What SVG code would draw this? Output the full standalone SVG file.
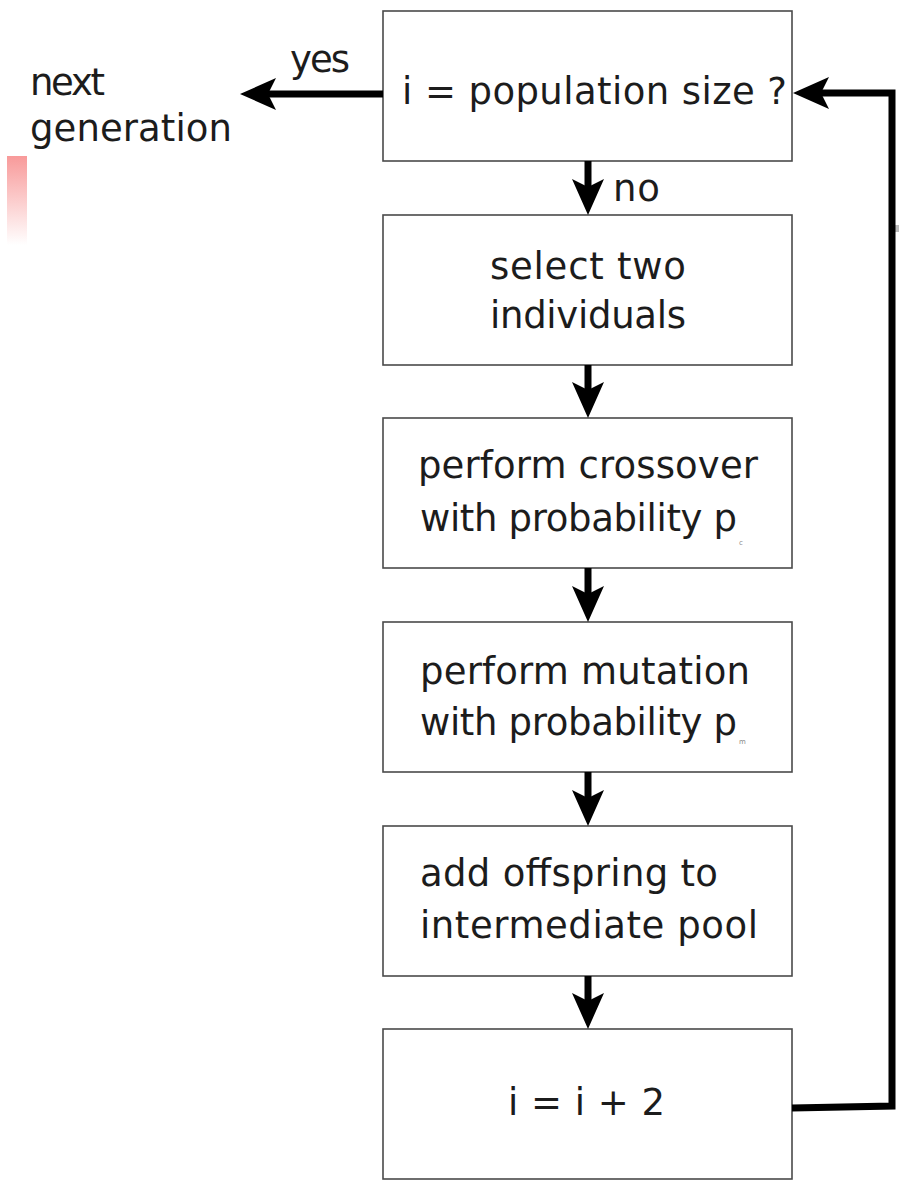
<svg xmlns="http://www.w3.org/2000/svg" width="899" height="1185" viewBox="0 0 899 1185">
  <style>
    .box { fill: #ffffff; stroke: #4a4a4a; stroke-width: 1.6; }
    .lbl { font-family: "DejaVu Sans", "Liberation Sans", sans-serif; font-size: 37px; fill: #1c1c1c; }
    .mid { text-anchor: middle; }
    .sub { font-family: "DejaVu Sans", "Liberation Sans", sans-serif; font-size: 7px; fill: #888888; }
    .conn { fill: none; stroke: #000000; stroke-width: 7; stroke-linejoin: miter; }
  </style>
  <defs>
    <marker id="ah" markerUnits="userSpaceOnUse" markerWidth="36" markerHeight="32" viewBox="0 0 36 32" refX="8" refY="16" orient="auto">
      <path d="M36,16 L0,0 L8,16 L0,32 Z" fill="#000000"/>
    </marker>
    <linearGradient id="pinkfade" x1="0" y1="0" x2="0" y2="1">
      <stop offset="0" stop-color="#f89a9a"/>
      <stop offset="1" stop-color="#ffffff"/>
    </linearGradient>
  </defs>
  <rect width="899" height="1185" fill="#ffffff"/>
  <rect x="7" y="156" width="20" height="89" fill="url(#pinkfade)"/>
  <rect x="895" y="225" width="4" height="7" fill="#bbbbbb"/>

  <g id="n-check">
    <rect class="box" x="383" y="11" width="409" height="150"/>
    <text class="lbl" x="402" y="104" textLength="385" lengthAdjust="spacing">i = population size ?</text>
  </g>
  <g id="n-select">
    <rect class="box" x="383" y="215" width="409" height="150"/>
    <text class="lbl" x="490" y="279" textLength="196" lengthAdjust="spacing">select two</text>
    <text class="lbl" x="490" y="328" textLength="196" lengthAdjust="spacing">individuals</text>
  </g>
  <g id="n-crossover">
    <rect class="box" x="383" y="418" width="409" height="150"/>
    <text class="lbl" x="418" y="478" textLength="340" lengthAdjust="spacing">perform crossover</text>
    <text class="lbl" x="420" y="531" textLength="317" lengthAdjust="spacing">with probability p</text>
    <text class="sub" x="739" y="545">c</text>
  </g>
  <g id="n-mutation">
    <rect class="box" x="383" y="622" width="409" height="150"/>
    <text class="lbl" x="420" y="684" textLength="330" lengthAdjust="spacing">perform mutation</text>
    <text class="lbl" x="420" y="735" textLength="317" lengthAdjust="spacing">with probability p</text>
    <text class="sub" x="739" y="744">m</text>
  </g>
  <g id="n-offspring">
    <rect class="box" x="383" y="826" width="409" height="150"/>
    <text class="lbl" x="420" y="886" textLength="298" lengthAdjust="spacing">add offspring to</text>
    <text class="lbl" x="420" y="938" textLength="338" lengthAdjust="spacing">intermediate pool</text>
  </g>
  <g id="n-increment">
    <rect class="box" x="383" y="1029" width="409" height="150"/>
    <text class="lbl" x="508" y="1115" textLength="157" lengthAdjust="spacing">i = i + 2</text>
  </g>
  <g id="n-next">
    <text class="lbl" x="30" y="95" textLength="75" lengthAdjust="spacing">next</text>
    <text class="lbl" x="30" y="141" textLength="202" lengthAdjust="spacing">generation</text>
  </g>

  <g id="connectors">
    <line class="conn" x1="383" y1="94" x2="268" y2="94" marker-end="url(#ah)"/>
    <text class="lbl" x="290" y="72" textLength="60" lengthAdjust="spacing">yes</text>
    <line class="conn" x1="588" y1="161" x2="588" y2="187" marker-end="url(#ah)"/>
    <text class="lbl" x="613" y="201" textLength="47" lengthAdjust="spacing">no</text>
    <line class="conn" x1="588" y1="365" x2="588" y2="390" marker-end="url(#ah)"/>
    <line class="conn" x1="588" y1="568" x2="588" y2="594" marker-end="url(#ah)"/>
    <line class="conn" x1="588" y1="772" x2="588" y2="798" marker-end="url(#ah)"/>
    <line class="conn" x1="588" y1="976" x2="588" y2="1001" marker-end="url(#ah)"/>
    <polyline class="conn" points="792,1108 892,1106 892,93 821,93" marker-end="url(#ah)"/>
  </g>
</svg>
